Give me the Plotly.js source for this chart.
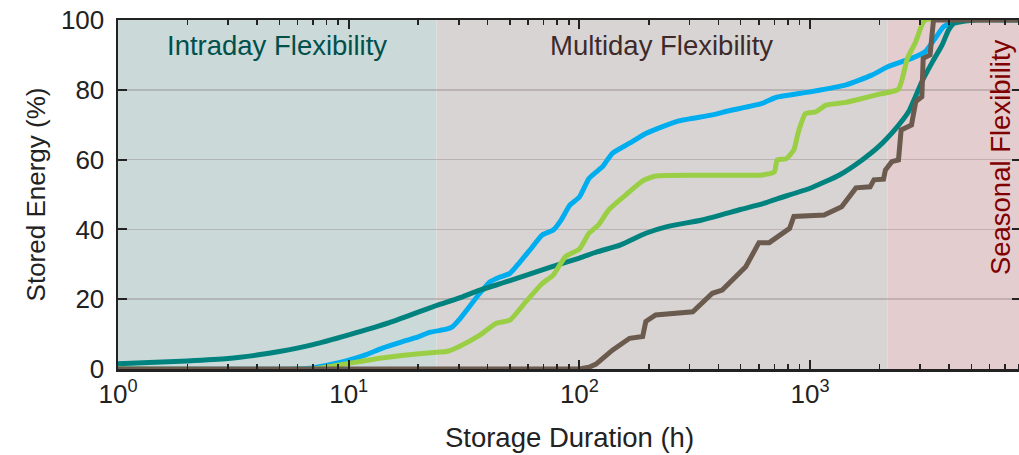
<!DOCTYPE html>
<html>
<head>
<meta charset="utf-8">
<script src="https://cdn.plot.ly/plotly-3.0.1.min.js"></script>
<style>
  html, body { margin: 0; padding: 0; overflow: hidden; background: #fff; }
  #chart { width: 1021px; height: 455px; }
</style>
</head>
<body>
<div id="chart"></div>
<script>
// Cumulative share of stored energy versus storage duration, by scenario.
const tealHours  = [1, 2, 3, 4, 5, 7, 10, 15, 20, 24, 30, 37, 50, 75, 100, 120, 150, 194, 240, 340, 500, 620, 730, 1000, 1340, 1680, 1980, 2350, 2670, 3050, 3390, 3730, 3980, 4200, 4700, 5200, 8760];
const tealValues = [1.5, 2.3, 3.0, 4.0, 5.0, 7.0, 9.8, 13.3, 16.3, 18.2, 20.3, 22.6, 25.3, 29.2, 31.8, 33.6, 35.5, 38.9, 40.8, 42.7, 45.7, 47.3, 48.9, 51.8, 55.6, 59.9, 63.7, 68.9, 73.7, 82.3, 88.0, 92.8, 97.1, 99.0, 99.7, 100, 100];

const blueHours  = [1, 6, 7, 8, 10, 12, 14, 17, 20, 22.4, 26.5, 28, 30, 33, 37, 41, 45, 50, 55, 61, 69, 77, 83, 91, 100, 110, 121, 126, 139, 165, 194, 228, 270, 377, 445, 620, 710, 1000, 1430, 1850, 2170, 2750, 3150, 3480, 3790, 4140, 4400, 8760];
const blueValues = [0, 0, 0.3, 1.0, 2.5, 4.2, 6.0, 7.8, 9.2, 10.5, 11.4, 12.0, 14.0, 17.5, 21.7, 25.0, 26.3, 27.4, 30.5, 34.1, 38.4, 39.8, 42.5, 47.0, 49.3, 54.6, 57.0, 58.0, 61.8, 64.7, 67.5, 69.4, 71.1, 72.8, 74.0, 76.1, 77.8, 79.4, 81.4, 84.2, 86.6, 89.0, 90.9, 94.7, 98.1, 99.3, 100, 100];

const greenHours  = [1, 7, 8, 10, 13.6, 17, 24, 26.5, 30, 37, 43.6, 50, 58.6, 69, 77, 87, 100, 110, 121, 134, 159, 188, 214, 377, 620, 700, 720, 785, 850, 890, 955, 1060, 1170, 1430, 1680, 1975, 2415, 2640, 2870, 3050, 3150, 8760];
const greenValues = [0, 0, 0.5, 1.6, 3.1, 3.9, 4.8, 5.0, 6.4, 9.7, 13.1, 14.0, 19.3, 24.5, 26.9, 32.2, 34.4, 38.9, 41.3, 45.6, 49.9, 53.9, 55.3, 55.5, 55.6, 56.5, 59.9, 60.2, 62.8, 68.0, 73.2, 73.7, 75.6, 76.4, 77.5, 78.7, 80.2, 89.0, 93.8, 98.6, 100, 100];

const brownHours  = [1, 100, 110, 118, 139, 165, 188, 194, 214, 310, 377, 416, 526, 600, 665, 730, 815, 850, 1150, 1370, 1450, 1580, 1820, 1890, 2080, 2120, 2260, 2415, 2480, 2750, 2870, 3050, 3090, 3310, 3420, 3480, 8760];
const brownValues = [0, 0, 0.5, 1.4, 5.4, 8.8, 9.3, 13.6, 15.5, 16.4, 21.7, 22.6, 29.3, 36.2, 36.2, 37.9, 40.3, 43.7, 44.1, 46.5, 48.9, 51.9, 52.2, 54.2, 54.4, 57.0, 59.4, 59.9, 68.5, 69.9, 76.6, 78.0, 89.0, 90.0, 99.5, 100, 100];

// Flexibility bands (hours): intraday up to one day, multiday up to ~90 days, seasonal beyond.
const bandNames  = ['Intraday Flexibility', 'Multiday Flexibility', 'Seasonal Flexibility'];
const bandStarts = [1, 24, 2160];
const bandEnds   = [24, 2160, 8760];

const majorTicks = [1, 10, 100, 1000];
const majorText  = ['10<sup>0</sup>', '10<sup>1</sup>', '10<sup>2</sup>', '10<sup>3</sup>'];
const minorTicks = [2, 3, 4, 5, 6, 7, 8, 9, 20, 30, 40, 50, 60, 70, 80, 90, 200, 300, 400, 500, 600, 700, 800, 900, 2000, 3000, 4000, 5000, 6000, 7000, 8000];
const yTicks     = [0, 20, 40, 60, 80, 100];

const FONT = 'Liberation Sans, Arial, Helvetica, sans-serif';

function line(x, y, color, shape) {
  return {
    x: x, y: y, type: 'scatter', mode: 'lines',
    line: { color: color, width: 5, shape: shape, smoothing: 0.5 },
    hoverinfo: 'skip', showlegend: false
  };
}

const traces = [
  line(blueHours, blueValues, '#00aeef', 'spline'),
  line(tealHours, tealValues, '#00837f', 'spline'),
  line(greenHours, greenValues, '#9acf45', 'spline'),
  line(brownHours, brownValues, '#6b5a4e', 'linear')
];

const bandFill = ['#cbd9d9', '#d9d4d4', '#e4cdcf'];
const shapes = bandStarts.map((s, i) => ({
  type: 'rect', xref: 'x', yref: 'y', layer: 'below',
  x0: s, x1: bandEnds[i], y0: 0, y1: 100,
  fillcolor: bandFill[i], line: { width: 0 }
}));

const annotations = [
  { text: bandNames[0], xref: 'x', yref: 'y',
    x: (Math.log10(bandStarts[0]) + Math.log10(bandEnds[0])) / 2, y: 92.8,
    showarrow: false, font: { family: FONT, size: 27.5, color: '#00504c' } },
  { text: bandNames[1], xref: 'x', yref: 'y',
    x: (Math.log10(bandStarts[1]) + Math.log10(bandEnds[1])) / 2, y: 92.8,
    showarrow: false, font: { family: FONT, size: 27.5, color: '#3d2b2b' } },
  { text: bandNames[2], xref: 'x', yref: 'y',
    x: Math.log10(6650), y: 60.7, textangle: -90,
    showarrow: false, font: { family: FONT, size: 27.5, color: '#800000' } }
];

const layout = {
  width: 1021, height: 455,
  margin: { l: 118, r: 0, t: 20, b: 86 },
  paper_bgcolor: '#ffffff', plot_bgcolor: '#ffffff',
  font: { family: FONT, size: 26, color: '#222222' },
  xaxis: {
    type: 'log', range: [0, 3.914],
    tickmode: 'array', tickvals: majorTicks, ticktext: majorText,
    ticks: 'inside', ticklen: 9, tickwidth: 2, tickcolor: '#222',
    minor: { tickmode: 'array', tickvals: minorTicks, ticks: 'inside', ticklen: 5, tickwidth: 1.5, tickcolor: '#222', showgrid: false },
    showline: true, linecolor: '#222', linewidth: 2.5, mirror: 'ticks',
    showgrid: false, zeroline: false,
    tickfont: { family: FONT, size: 26, color: '#222' },
    title: { text: 'Storage Duration (h)', font: { family: FONT, size: 27.5, color: '#222' }, standoff: 20 }
  },
  yaxis: {
    range: [0, 100], tickmode: 'array', tickvals: yTicks,
    ticks: 'inside', ticklen: 9, tickwidth: 2, tickcolor: '#222',
    showline: true, linecolor: '#222', linewidth: 2.5, mirror: 'ticks',
    showgrid: true, gridcolor: 'rgba(150,140,140,0.45)', gridwidth: 1.5,
    zeroline: false, ticklabelstandoff: 6,
    tickfont: { family: FONT, size: 26, color: '#222' },
    title: { text: 'Stored Energy (%)', font: { family: FONT, size: 26, color: '#222' }, standoff: 8 }
  },
  shapes: shapes,
  annotations: annotations
};

Plotly.newPlot('chart', traces, layout, { staticPlot: true, displayModeBar: false });
</script>
</body>
</html>
